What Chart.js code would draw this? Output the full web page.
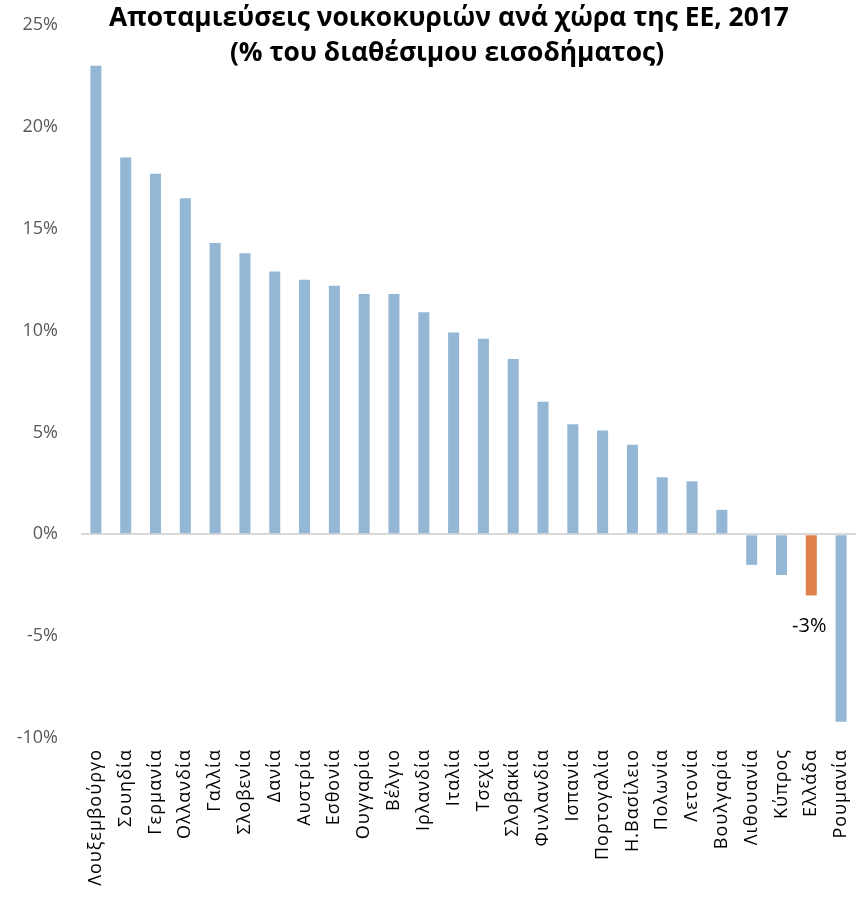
<!DOCTYPE html>
<html>
<head>
<meta charset="utf-8">
<script src="https://cdn.jsdelivr.net/npm/chart.js@4"></script>
<style>
  html, body { margin: 0; padding: 0; background: #fff; }
  #wrap { width: 856px; height: 900px; position: relative; }
</style>
</head>
<body>
<div id="wrap"><canvas id="myChart"></canvas></div>
<script>
const categories = ["Λουξεμβούργο", "Σουηδία", "Γερμανία", "Ολλανδία", "Γαλλία", "Σλοβενία", "Δανία",
	"Αυστρία", "Εσθονία", "Ουγγαρία", "Βέλγιο", "Ιρλανδία", "Ιταλία", "Τσεχία", "Σλοβακία",
	"Φινλανδία", "Ισπανία", "Πορτογαλία", "Η.Βασίλειο", "Πολωνία", "Λετονία", "Βουλγαρία",
	"Λιθουανία", "Κύπρος", "Ελλάδα", "Ρουμανία"];
const savings = [23.0, 18.5, 17.7, 16.5, 14.3, 13.8, 12.9, 12.5, 12.2, 11.8, 11.8, 10.9, 9.9, 9.6,
	8.6, 6.5, 5.4, 5.1, 4.4, 2.8, 2.6, 1.2, -1.5, -2.0, -3.0, -9.2];
const highlighted = "Ελλάδα";
const titleLines = ["Αποταμιεύσεις νοικοκυριών ανά χώρα της ΕΕ, 2017", "(% του διαθέσιμου εισοδήματος)"];

const barColors = categories.map(c => c === highlighted ? "#E0804A" : "#95B7D6");

// title drawn over the plot, the way the original overlays it
const titlePlugin = {
	id: "overlayTitle",
	afterDraw(chart) {
		const ctx = chart.ctx;
		ctx.save();
		ctx.fillStyle = "#000";
		ctx.textAlign = "center";
		ctx.textBaseline = "middle";
		let size = 24;
		ctx.font = "bold " + size + "px 'Open Sans'";
		const w = ctx.measureText(titleLines[0]).width;
		size = size * 680 / w;
		ctx.font = "bold " + size + "px 'Open Sans'";
		ctx.fillText(titleLines[0], 449, 18);
		ctx.fillText(titleLines[1], 447, 53);
		ctx.restore();
	}
};

// value label under the highlighted bar
const labelPlugin = {
	id: "highlightLabel",
	afterDatasetsDraw(chart) {
		const i = categories.indexOf(highlighted);
		const bar = chart.getDatasetMeta(0).data[i];
		const ctx = chart.ctx;
		ctx.save();
		ctx.fillStyle = "#000";
		ctx.font = "20px 'Open Sans'";
		ctx.textAlign = "center";
		ctx.textBaseline = "middle";
		ctx.fillText(Math.round(savings[i]) + "%", bar.x - 2, bar.y + 31);
		ctx.restore();
	}
};

const chart = new Chart(document.getElementById("myChart"), {
	type: "bar",
	data: {
		labels: categories,
		datasets: [{
			data: savings,
			backgroundColor: barColors,
			borderWidth: 0,
			categoryPercentage: 1,
			barPercentage: 0.37
		}]
	},
	options: {
		responsive: true,
		maintainAspectRatio: false,
		animation: false,
		layout: { padding: { top: 25, right: 0, left: 0, bottom: 0 } },
		plugins: {
			legend: { display: false },
			title: { display: false },
			tooltip: { enabled: false }
		},
		scales: {
			x: {
				grid: { display: false },
				border: { display: false },
				ticks: {
					minRotation: 90,
					maxRotation: 90,
					autoSkip: false,
					padding: 3,
					color: "#000",
					font: { family: "'Open Sans'", size: 18 }
				},
				afterFit(scale) {
					scale.height = 162;
					scale.paddingLeft = 0;
					scale.paddingRight = 0;
				}
			},
			y: {
				min: -10,
				max: 25,
				grid: {
					drawTicks: false,
					lineWidth: 2,
					color: c => c.tick.value === 0 ? "#D9D9D9" : "transparent"
				},
				border: { display: false },
				ticks: {
					stepSize: 5,
					padding: 23,
					color: "#595959",
					font: { family: "'Open Sans'", size: 18 },
					callback: v => v + "%"
				},
				afterFit(scale) {
					scale.width = 81;
					scale.paddingTop = 0;
					scale.paddingBottom = 0;
				}
			}
		}
	},
	plugins: [titlePlugin, labelPlugin]
});

// the category labels in the original are a little letter-spaced
const xs = chart.scales.x;
const drawLabels = xs.drawLabels.bind(xs);
xs.drawLabels = function (area) {
	this.ctx.save();
	this.ctx.letterSpacing = "1px";
	drawLabels(area);
	this.ctx.restore();
};
chart.draw();
</script>
</body>
</html>
